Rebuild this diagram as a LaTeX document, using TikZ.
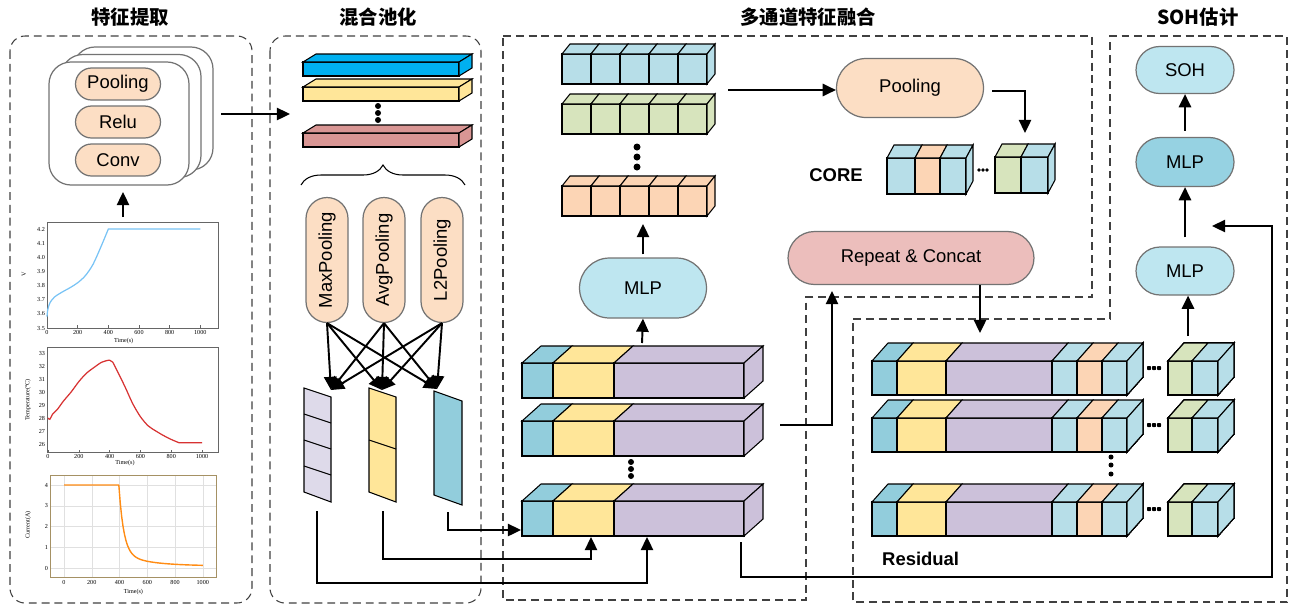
\documentclass[tikz,border=0pt]{standalone}
\usepackage{fontspec}
\setmainfont{Liberation Sans}
\newfontfamily\cjk{Noto Sans CJK SC}
\newfontfamily\chartfont{Liberation Serif}
\usetikzlibrary{arrows.meta,shapes.misc,decorations.pathreplacing,calc}
\definecolor{cPill}{RGB}{252,222,196}
\definecolor{cSky}{RGB}{190,230,240}
\definecolor{cSkyD}{RGB}{150,210,226}
\definecolor{cRose}{RGB}{236,190,188}
\definecolor{cBlue}{RGB}{0,176,240}
\definecolor{cYel}{RGB}{255,230,153}
\definecolor{cRed}{RGB}{217,150,148}
\definecolor{cLavL}{RGB}{222,218,234}
\definecolor{cLav}{RGB}{204,193,218}
\definecolor{cTeal}{RGB}{146,205,220}
\definecolor{cCube}{RGB}{183,222,232}
\definecolor{cGreen}{RGB}{215,228,189}
\definecolor{cPeach}{RGB}{252,213,181}
\definecolor{cVolt}{RGB}{120,195,245}
\definecolor{cTemp}{RGB}{215,50,50}
\definecolor{cCurr}{RGB}{255,140,20}
\definecolor{cFrame}{RGB}{165,145,100}
% front + top face of one slab, depth \dpx / \dpz
\def\slab[#1](#2:#3:#4:#5){\draw[blk,fill=#1] ({#2},{#4}) rectangle ({#3},{#5});
  \draw[blk,fill=#1] ({#2},{#4}) -- ({#2+\dpx},{#4-\dpz}) -- ({#3+\dpx},{#4-\dpz}) -- ({#3},{#4}) -- cycle;}
% right face
\def\sidefc[#1](#2:#3:#4){\draw[blk,fill=#1] ({#2},{#3}) -- ({#2+\dpx},{#3-\dpz}) -- ({#2+\dpx},{#4-\dpz}) -- ({#2},{#4}) -- cycle;}

\begin{document}
\begin{tikzpicture}[x=0.02cm,y=-0.02cm,
	arr/.style={line width=1.1pt,-{Triangle[length=7.5pt,width=7pt]}},
	panel/.style={draw=black!75,line width=0.6pt,dash pattern=on 4.5pt off 2.8pt},
	pill/.style={rounded rectangle,draw=black!55,line width=0.7pt,inner sep=0pt,font=\fontsize{10.5}{12}\selectfont},
	blk/.style={draw=black,line width=0.6pt},
	ttl/.style={font=\cjk\bfseries\fontsize{11}{13}\selectfont}]
			%%%%% START %%%%%
			\useasboundingbox (0,0) rectangle (1294,606);
			
			\node[ttl] at (130,17) {特征提取};
			\node[ttl] at (378,17) {混合池化};
			\node[ttl] at (808,17) {多通道特征融合};
			\node[ttl] at (1198,17) {SOH估计};
			
			\draw[panel,rounded corners=0.3cm] (10,36) rectangle (252,603);
			\draw[panel,rounded corners=0.3cm] (270,36) rectangle (481,603);
			\draw[panel] (503,36) -- (1092,36) -- (1092,297) -- (806,297) -- (806,600) -- (503,600) -- cycle;
			\draw[panel] (853,319) -- (1110,319) -- (1110,36) -- (1287,36) -- (1287,602) -- (853,602) -- cycle;
			
			%%%%% feature extraction %%%%%
			\foreach \k in {2,1,0}
				\draw[draw=black!55,line width=0.7pt,fill=white,rounded corners=0.44cm] (49+12*\k,62-7.5*\k) rectangle (189+12*\k,185-7.5*\k);
			\node[pill,fill=cPill,minimum width=1.7cm,minimum height=0.64cm] (pl) at (118,84) {Pooling};
			\node[pill,fill=cPill,minimum width=1.7cm,minimum height=0.64cm] (rl) at (118,122) {Relu};
			\node[pill,fill=cPill,minimum width=1.7cm,minimum height=0.64cm] (cv) at (118,160) {Conv};
			\coordinate (featOut) at (221,114);
			\coordinate (mixIn) at (290,114);
			\coordinate (chartTop) at (123,217);
			\coordinate (cardIn) at (123,192);
			\draw[arr] (featOut) -- (mixIn);
			\draw[arr] (chartTop) -- (cardIn);
			
			% voltage
			\begin{scope}[shift={(47,328)},x=0.00306cm,y=2.828cm,font=\chartfont\fontsize{3.5}{4}\selectfont]
				\draw[black!60,line width=0.5pt] (0,0) rectangle (1118,0.75);
				\foreach \v/\l in {0/3.5,0.1/3.6,0.2/3.7,0.3/3.8,0.4/3.9,0.5/4.0,0.6/4.1,0.7/4.2}
					\node[left,inner sep=1pt] at (0,\v) {\l};
				\foreach \t in {0,200,...,1000}{
					\draw[black!60,line width=0.3pt] (\t,0) -- (\t,0.02);
					\node[below,inner sep=1pt] at (\t,0) {\t};}
				\draw[cVolt,line width=0.7pt] plot[smooth] coordinates {(0,0.08) (5,0.13) (20,0.18) (50,0.22) (100,0.255) (150,0.285) (200,0.32) (250,0.37) (300,0.45) (350,0.57) (400,0.7)} -- (1000,0.7);
				\node[rotate=90] at (-150,0.38) {V};
				\node at (500,-0.092) {Time(s)};
			\end{scope}
			
			% temperature
			\begin{scope}[shift={(48,444)},x=0.00308cm,y=0.26cm,font=\chartfont\fontsize{3.5}{4}\selectfont]
				\draw[black!60,line width=0.5pt] (-6,-0.62) rectangle (1104,7.46);
				\foreach \T in {26,...,33}
					\node[left,inner sep=1pt] at (-6,\T-26) {\T};
				\foreach \t in {0,200,...,1000}{
					\draw[black!60,line width=0.3pt] (\t,-0.62) -- (\t,-0.45);
					\node[below,inner sep=1pt] at (\t,-0.62) {\t};}
				\draw[cTemp,line width=0.7pt] plot[smooth] coordinates {(0,2) (12,1.9) (30,2.3) (60,2.65) (100,3.3) (150,4) (200,4.8) (250,5.45) (300,5.9) (350,6.3) (400,6.45) (420,6.3) (450,5.6) (500,4.4) (550,3.1) (600,2.1) (650,1.4) (700,1) (750,0.65) (800,0.35) (850,0.1)} -- (1000,0.1);
				\node[rotate=90] at (-130,3.4) {Temperature(°C)};
				\node at (500,-1.46) {Time(s)};
			\end{scope}
			
			% current
			\begin{scope}[shift={(64,568)},x=0.00278cm,y=0.415cm,font=\chartfont\fontsize{3.5}{4}\selectfont]
				\foreach \t in {0,200,...,1000} \draw[black!12,line width=0.3pt] (\t,-0.48) -- (\t,4.48);
				\foreach \I in {0,...,4} \draw[black!12,line width=0.3pt] (-100,\I) -- (1100,\I);
				\draw[cFrame,line width=0.6pt] (-100,-0.48) rectangle (1100,4.48);
				\foreach \I in {0,...,4}
					\node[left,inner sep=1pt] at (-100,\I) {\I};
				\foreach \t in {0,200,...,1000}
					\node[below,inner sep=1pt] at (\t,-0.48) {\t};
				\draw[cCurr,line width=0.8pt] (0,4) -- (395,4) -- plot[domain=395:1000,samples=60] (\x,{0.1+3.3*exp(-(\x-395)/35)+0.6*exp(-(\x-395)/200)});
				\node[rotate=90] at (-259,2.07) {Current(A)};
				\node at (500,-1.16) {Time(s)};
			\end{scope}
			
			%%%%% mixed pooling %%%%%
			\def\dpx{13}\def\dpz{8}
			\slab[cBlue](303:459:62:76) \sidefc[cBlue](459:62:76)
			\slab[cYel](303:459:87:101) \sidefc[cYel](459:87:101)
			\slab[cRed](303:459:133:147) \sidefc[cRed](459:133:147)
			\foreach \y in {106,113,120} \fill (378,\y) circle (3);
			\draw[line width=0.6pt,decorate,decoration={brace,amplitude=0.4cm}] (301,185) -- (465,185);
			
			\node[pill,fill=cPill,rotate=90,minimum width=2.5cm,minimum height=0.84cm] (mxp) at (327,260) {MaxPooling};
			\node[pill,fill=cPill,rotate=90,minimum width=2.5cm,minimum height=0.84cm] (avp) at (384,260) {AvgPooling};
			\node[pill,fill=cPill,rotate=90,minimum width=2.5cm,minimum height=0.84cm] (l2p) at (442,260) {L2Pooling};
			
			\coordinate (t1) at (331,390);
			\coordinate (t2) at (382,390);
			\coordinate (t3) at (437,389);
			\foreach \s in {mxp,avp,l2p}
				\foreach \t in {t1,t2,t3}
					\draw[arr] (\s.west) -- (\t);
			
			\draw[blk,fill=cLavL] (304,388) -- (331,397) -- (331,502) -- (304,492) -- cycle;
			\foreach \k in {1,2,3} \draw[blk] (304,388+26*\k) -- (331,397+26*\k);
			\draw[blk,fill=cYel] (369,388) -- (396,397) -- (396,502) -- (369,492) -- cycle;
			\draw[blk] (369,440) -- (396,449);
			\draw[blk,fill=cTeal] (434,391) -- (462,401) -- (462,505) -- (434,495) -- cycle;
			
			%%%%% multi-channel fusion %%%%%
			\def\dpx{19}\def\dpz{17}
			\foreach \yt in {363,421,501}{
				\slab[cTeal](522:553:\yt:\yt+35)
				\slab[cYel](553:614:\yt:\yt+35)
				\slab[cLav](614:744:\yt:\yt+35)
				\sidefc[cLav](744:\yt:\yt+35)
			}
			\foreach \y in {462,469,476} \fill (631,\y) circle (3);
			
			\coordinate (s1b) at (317,511);
			\coordinate (s2b) at (383,511);
			\coordinate (s3b) at (448,512);
			\coordinate (b3w) at (521,530);
			\coordinate (b3in1) at (591,537);
			\coordinate (b3in2) at (647,537);
			\draw[arr] (s1b) -- ++(0,72) -| (b3in2);
			\draw[arr] (s2b) -- ++(0,48) -| (b3in1);
			\draw[arr] (s3b) |- (b3w);
			
			\node[pill,fill=cSky,minimum width=2.54cm,minimum height=1.2cm] (mlp) at (643,288) {MLP};
			\coordinate (b1top) at (642,343);
			\draw[arr] (b1top) -- (mlp.south);
			
			\def\dpx{8}\def\dpz{10}
			\foreach \yt/\c in {54/cCube,104/cGreen,186/cPeach}{
				\foreach \i in {0,...,4}{
					\pgfmathtruncatemacro\xa{562+29*\i}
					\pgfmathtruncatemacro\xb{\xa+29}
					\slab[\c](\xa:\xb:\yt:\yt+30)
				}
				\sidefc[\c](707:\yt:\yt+30)
			}
			\foreach \y in {147,157,167} \fill (637,\y) circle (3.5);
			\coordinate (row3b) at (643,224);
			\draw[arr] ([yshift=0.06cm]mlp.north) -- (row3b);
			
			\node[pill,fill=cPill,minimum width=2.94cm,minimum height=1.18cm] (pool) at (910,88) {Pooling};
			\coordinate (row1e) at (728,90);
			\draw[arr] (row1e) -- (row1e -| pool.west);
			\coordinate (coreIn) at (1025,133);
			\draw[arr] ([xshift=0.16cm,yshift=-0.06cm]pool.east) -| (coreIn);
			
			\node[font=\bfseries\fontsize{10.5}{12}\selectfont] at (836,175) {CORE};
			\def\dpx{7}\def\dpz{13}
			\slab[cCube](887:915:158:194)
			\slab[cPeach](915:940:158:194)
			\slab[cCube](940:966:158:194) \sidefc[cCube](966:158:194)
			\foreach \x in {979,983,987} \fill (\x,170) circle (1.8);
			\slab[cGreen](995:1021:157:193)
			\slab[cCube](1021:1048:157:193) \sidefc[cCube](1048:157:193)
			
			\node[pill,fill=cRose,minimum width=4.92cm,minimum height=1.06cm] (rep) at (911,258) {Repeat \& Concat};
			\coordinate (b2e) at (780,425);
			\coordinate (repIn) at (832,291);
			\draw[arr] (b2e) -| (repIn);
			\coordinate (resIn) at (980,333);
			\draw[arr] (resIn |- rep.south) -- (resIn);
			
			%%%%% residual %%%%%
			\def\dpx{16}\def\dpz{18}
			\foreach \yt in {361,418,502}{
				\foreach \xa/\xb/\c in {872/897/cTeal,897/946/cYel,946/1052/cLav,1052/1077/cCube,1077/1102/cPeach,1102/1127/cCube}
					\slab[\c](\xa:\xb:\yt:\yt+34)
				\sidefc[cCube](1127:\yt:\yt+34)
				\slab[cGreen](1168:1192:\yt:\yt+34)
				\slab[cCube](1192:1218:\yt:\yt+34)
				\sidefc[cCube](1218:\yt:\yt+34)
				\foreach \x in {1149,1154,1159} \fill (\x,\yt+7) circle (2);
			}
			\foreach \y in {457,465,474} \fill (1111,\y) circle (2.5);
			\node[font=\bfseries\fontsize{10.5}{12}\selectfont,anchor=west] at (876,559) {Residual};
			
			%%%%% SOH estimation %%%%%
			\node[pill,fill=cSky,minimum width=1.96cm,minimum height=0.94cm] (soh) at (1185,70) {SOH};
			\node[pill,fill=cSkyD,minimum width=1.96cm,minimum height=0.98cm] (mlpb) at (1185,162) {MLP};
			\node[pill,fill=cSky,minimum width=1.96cm,minimum height=0.96cm] (mlpa) at (1185,271) {MLP};
			\draw[arr,shorten <=0.18cm] (mlpa.north) -- (mlpb.south);
			\draw[arr,shorten <=0.12cm] (mlpb.north) -- (soh.south);
			\coordinate (resOut) at (1188,336);
			\draw[arr] (resOut) -- (resOut |- mlpa.south);
			
			\coordinate (b3out) at (741,542);
			\coordinate (loop) at (1272,577);
			\coordinate (mlpIn) at (1212,226);
			\draw[arr] (b3out) |- (loop) |- (mlpIn);
			
			%%%%% END %%%%%
\end{tikzpicture}
\end{document}
